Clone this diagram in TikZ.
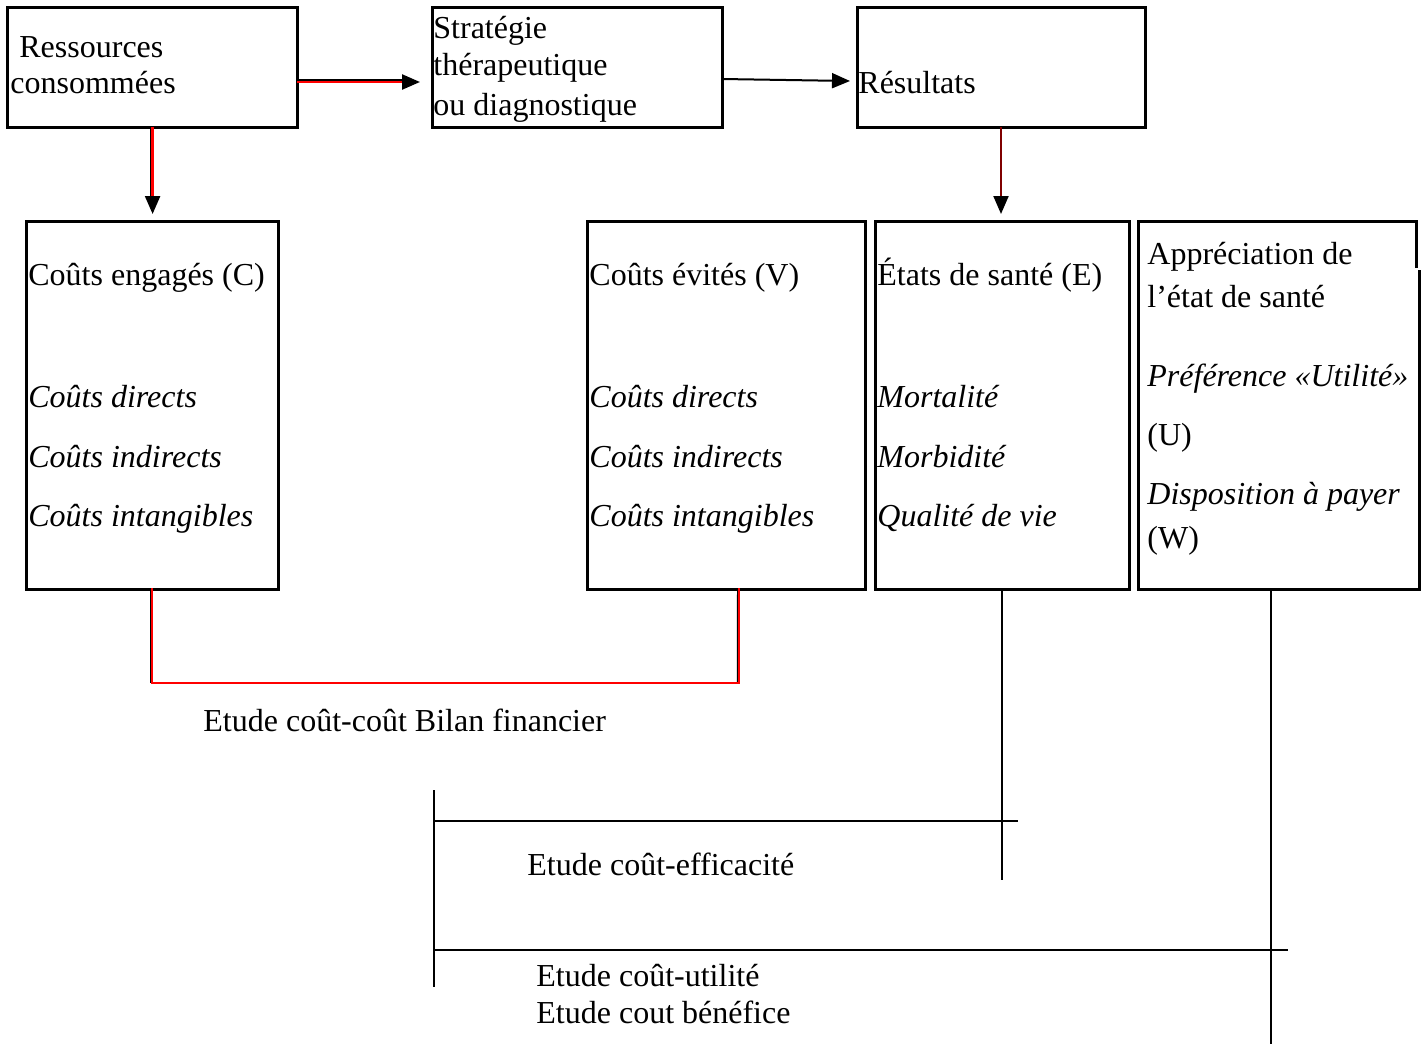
\documentclass[tikz,border=0pt]{standalone}
\usepackage{fontspec}
\setmainfont{Liberation Serif}
\usetikzlibrary{arrows.meta,calc}
\begin{document}
\begin{tikzpicture}[x=0.5pt,y=-0.5pt,
  box/.style={draw,line width=1.5pt,rectangle,anchor=north west,inner sep=0pt,outer sep=0pt},
  nobox/.style={rectangle,anchor=north west,inner sep=0pt,outer sep=0pt},
  txt/.style={anchor=base west,inner sep=0pt,font=\fontsize{16pt}{19pt}\selectfont},
  itxt/.style={anchor=base west,inner sep=0pt,font=\fontsize{16pt}{19pt}\selectfont\itshape},
  tip/.style={-{Triangle[length=9pt,width=7.5pt,color=black]}},
  thin/.style={line width=1pt},
  redl/.style={draw=red,line width=1.2pt},
  blk/.style={draw=black,line width=1pt}]
\useasboundingbox (0,0) rectangle (1428,1044);
% boxes
\node[box,minimum width=145pt,minimum height=60pt] (res) at (7,7) {};
\node[box,minimum width=145pt,minimum height=60pt] (strat) at (432,7) {};
\node[box,minimum width=144pt,minimum height=60pt] (resu) at (857,7) {};
\node[box,minimum width=126pt,minimum height=184pt] (ce) at (26,221) {};
\node[box,minimum width=139pt,minimum height=184pt] (cv) at (587,221) {};
\node[box,minimum width=127pt,minimum height=184pt] (etat) at (875,221) {};
\node[nobox,minimum width=140.5pt,minimum height=184pt] (appr) at (1138,221) {};
\draw[line width=1.5pt] (1416,268) -- (1416,221) -- (1138,221) -- (1138,589) -- (1419,589) -- (1419,270);
% texts
\node[txt] (t1) at (11,57) {\ Ressources};
\node[txt] (t2) at (10,93) {consommées};
\node[txt] (t3) at (433,38) {Stratégie};
\node[txt] (t4) at (433,75) {thérapeutique};
\node[txt] (t5) at (433,115) {ou diagnostique};
\node[txt] (t6) at (858,93) {Résultats};
\node[txt] (t7) at (28,285) {Coûts engagés (C)};
\node[itxt] (t8) at (28,407) {Coûts directs};
\node[itxt] (t9) at (28,467) {Coûts indirects};
\node[itxt] (t10) at (28,526) {Coûts intangibles};
\node[txt] (t11) at (589,285) {Coûts évités (V)};
\node[itxt] (t12) at (589,407) {Coûts directs};
\node[itxt] (t13) at (589,467) {Coûts indirects};
\node[itxt] (t14) at (589,526) {Coûts intangibles};
\node[txt] (t15) at (877,285) {États de santé (E)};
\node[itxt] (t16) at (877,407) {Mortalité};
\node[itxt] (t17) at (877,467) {Morbidité};
\node[itxt] (t18) at (877,526) {Qualité de vie};
\node[txt] (t19) at (1147,264) {Appréciation de};
\node[txt] (t20) at (1147,307) {l’état de santé};
\node[itxt] (t21) at (1147,386) {Préférence «Utilité»};
\node[txt] (t22) at (1147,445) {(U)};
\node[itxt] (t23) at (1147,504) {Disposition à payer};
\node[txt] (t24) at (1147,548) {(W)};
\node[txt] (l1) at (203,731) {Etude coût-coût Bilan financier};
\node[txt] (l2) at (527,875) {Etude coût-efficacité};
\node[txt] (l3) at (536,986) {Etude coût-utilité};
\node[txt] (l4) at (536,1023) {Etude cout bénéfice};
% arrows top
\draw[blk] ([yshift=-6.5pt]res.east) -- ([yshift=-6.5pt,xshift=-10pt]strat.west);
\draw[redl,tip] ([yshift=-7.5pt]res.east) -- ([yshift=-7.5pt,xshift=-6pt]strat.west);
\draw[blk] ([xshift=-0.5pt]res.south) -- ([xshift=-0.5pt,yshift=7.5pt]ce.north);
\draw[redl,tip] ([xshift=0.3pt]res.south) -- ([xshift=0.3pt,yshift=3.5pt]ce.north);
\draw[thin,tip] ([yshift=-6pt]strat.east) -- ([yshift=-7pt,xshift=-3.5pt]resu.west);
\draw[draw=red!50!black,line width=1pt,tip] (resu.south) -- ([xshift=-0.5pt,yshift=3.5pt]etat.north);
% cost-cost bracket
\coordinate (b1) at (152,683);
\coordinate (b2) at (739,683);
\draw[blk] ([xshift=-0.6pt]ce.south) -- ([xshift=-0.6pt]b1);
\draw[blk] ([xshift=6pt]cv.south) -- ([xshift=-0.6pt]b2);
\draw[redl,line cap=rect] (ce.south) -- (b1) -- (b2) -- ([xshift=6.5pt]cv.south);
% analysis lines
\coordinate (e1) at (1002,880);
\draw[thin] (etat.south) -- (e1);
\coordinate (u1) at (1271,1044);
\draw[thin] ([xshift=-3.75pt]appr.south) -- (u1);
\coordinate (v1) at (434,790);
\coordinate (v2) at (434,987);
\draw[thin] (v1) -- (v2);
\coordinate (h1) at (1018,821);
\draw[thin] (v1 |- h1) -- (h1);
\coordinate (h2) at (1288,950);
\draw[thin] (v1 |- h2) -- (h2);
\end{tikzpicture}
\end{document}
